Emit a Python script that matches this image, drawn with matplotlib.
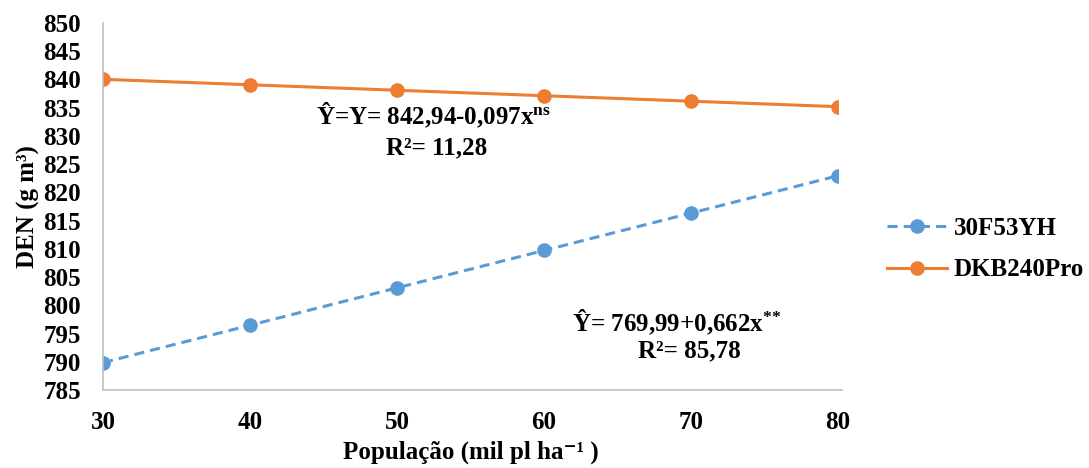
import matplotlib
matplotlib.use("Agg")
import matplotlib.pyplot as plt

# population (mil pl/ha) and density values
populacao = [30, 40, 50, 60, 70, 80]
den_30f53yh = [789.85, 796.47, 803.09, 809.71, 816.33, 822.95]
den_dkb240pro = [840.03, 839.06, 838.09, 837.12, 836.15, 835.18]
series_names = ["30F53YH", "DKB240Pro"]
y_ticks = list(range(785, 851, 5))

plt.rcParams["font.family"] = ["Liberation Serif", "DejaVu Serif"]
plt.rcParams["font.weight"] = "bold"
plt.rcParams["mathtext.fontset"] = "custom"
plt.rcParams["mathtext.bf"] = "Liberation Serif:bold"
plt.rcParams["mathtext.rm"] = "Liberation Serif:bold"
plt.rcParams["mathtext.it"] = "Liberation Serif:bold"

FS = 18

fig = plt.figure(figsize=(10.89, 4.68), dpi=100)
ax = fig.add_axes([103 / 1089, 1 - 390 / 468, (838 - 103) / 1089, (390 - 23) / 468])

ax.plot(populacao, den_30f53yh, color="#5B9BD5", lw=2.2, ls=(0, (3.3, 2.0)),
        marker="o", ms=9.5, label=series_names[0])
ax.plot(populacao, den_dkb240pro, color="#ED7D31", lw=2.2,
        marker="o", ms=9.5, label=series_names[1])

ax.set_xlim(30, 80)
ax.set_ylim(785, 850)
ax.set_xticks(populacao)
ax.set_yticks(y_ticks)
ax.tick_params(length=0, labelsize=FS)
ax.tick_params(axis="x", pad=15)
ax.tick_params(axis="y", pad=16)
for lab in ax.get_xticklabels() + ax.get_yticklabels():
    lab.set_fontweight("bold")

for s in ["top", "right"]:
    ax.spines[s].set_visible(False)
for s in ["left", "bottom"]:
    ax.spines[s].set_color("#BFBFBF")
    ax.spines[s].set_linewidth(1.2)
ax.spines["bottom"].set_bounds(30, 80.25)

ax.set_xlabel("População (mil pl ha⁻¹ )", fontsize=FS, fontweight="bold", labelpad=5)
ax.set_ylabel("DEN (g m³)", fontsize=FS, fontweight="bold", labelpad=2)

ax.text(52.5, 833.6, "Ŷ=Y= 842,94-0,097x$^{\\mathbf{ns}}$", fontsize=FS, fontweight="bold", ha="center", va="center")
ax.text(52.7, 827.9, "R²= 11,28", fontsize=FS, fontweight="bold", ha="center", va="center")
ax.text(69.0, 797.0, "Ŷ= 769,99+0,662x$^{{*}{*}}$", fontsize=FS, fontweight="bold", ha="center", va="center")
ax.text(69.9, 791.9, "R²= 85,78", fontsize=FS, fontweight="bold", ha="center", va="center")

fig.legend(loc="center left", bbox_to_anchor=(864 / 1089, 1 - 249 / 468), frameon=False,
           prop={"size": FS, "weight": "bold"}, handlelength=2.4, labelspacing=0.75,
           handletextpad=0.3)

fig.savefig("out.png", dpi=100)
